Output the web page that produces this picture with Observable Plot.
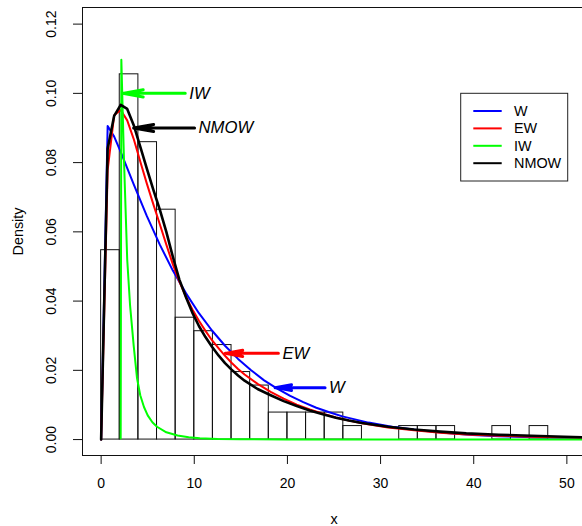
<!DOCTYPE html>
<html>
<head>
<meta charset="utf-8">
<script src="https://cdn.jsdelivr.net/npm/d3@7"></script>
<script src="https://cdn.jsdelivr.net/npm/@observablehq/plot@0.6"></script>
<style>
  html, body { margin: 0; padding: 0; background: #fff; overflow: hidden; }
  #chart { width: 582px; height: 526px; overflow: hidden; position: relative; }
  #chart svg { display: block; max-width: none !important; width: 590px !important; height: 526px !important; }
</style>
</head>
<body>
<div id="chart"></div>
<script>
// ---- Histogram (density scale), bins of width 2 starting at 0 ----
const binLeft  = [0, 2, 4, 6, 8, 10, 12, 14, 16, 18, 20, 22, 24, 26, 28, 30, 32, 34, 36, 38, 40, 42, 44, 46, 48, 50];
const binRight = [2, 4, 6, 8, 10, 12, 14, 16, 18, 20, 22, 24, 26, 28, 30, 32, 34, 36, 38, 40, 42, 44, 46, 48, 50, 52];
const binDensity = [0.0547, 0.1055, 0.0859, 0.0664, 0.0352, 0.0313, 0.0273, 0.0195, 0.0156, 0.0078, 0.0078, 0.0078, 0.0078, 0.0039, 0, 0, 0.0039, 0.0039, 0.0039, 0, 0, 0.0039, 0, 0.0039, 0, 0];

// ---- Fitted density curves ----
const wX = [0, 0.7, 1.4, 2.1, 2.8, 3.5, 4.9, 6.3, 7.7, 9.1, 10.5, 11.9, 13.3, 14.7, 16.1, 17.5, 18.9, 20.3, 21.7, 23.1, 24.5, 25.9, 28.7, 31.5, 34.3, 37.1, 39.9, 42.7, 46.2, 49.7, 53.2];
const wY = [0, 0.0906, 0.0875, 0.0831, 0.0784, 0.0737, 0.0646, 0.0563, 0.0488, 0.0423, 0.0365, 0.0315, 0.0271, 0.0233, 0.0200, 0.0171, 0.0147, 0.0126, 0.0108, 0.0092, 0.0079, 0.0067, 0.0049, 0.0036, 0.0026, 0.0019, 0.00135, 0.00097, 0.00065, 0.00043, 0.00029];

const ewX = [0, 0.7, 1.4, 2.1, 2.8, 3.5, 4.2, 4.9, 5.6, 6.3, 7.0, 7.7, 8.4, 9.1, 9.8, 10.5, 11.2, 11.9, 12.6, 13.3, 14.0, 14.7, 15.4, 16.8, 18.2, 19.6, 21.0, 22.4, 23.8, 25.2, 26.6, 28.0, 30.8, 33.6, 36.4, 39.2, 42.7, 46.2, 49.7, 53.2];
const ewY = [0, 0.0778, 0.0937, 0.0952, 0.0922, 0.0868, 0.0803, 0.0740, 0.0680, 0.0622, 0.0563, 0.0506, 0.0456, 0.0413, 0.0376, 0.0343, 0.0314, 0.0287, 0.0264, 0.0242, 0.0222, 0.0204, 0.0188, 0.0161, 0.0138, 0.0118, 0.0101, 0.0087, 0.0075, 0.0064, 0.0055, 0.0047, 0.0035, 0.0027, 0.0020, 0.0015, 0.0011, 0.0008, 0.0006, 0.00045];

const iwX = [2.1, 2.17, 2.45, 2.8, 3.1, 3.5, 3.85, 4.2, 4.6, 5.0, 5.5, 6.0, 7.0, 8.2, 9.4, 10.6, 12.5, 15, 20, 30, 53];
const iwY = [0.0003, 0.1097, 0.081, 0.052, 0.039, 0.027, 0.0178, 0.0128, 0.0094, 0.0070, 0.0050, 0.0037, 0.0021, 0.0012, 0.0007, 0.0004, 0.0002, 0.0001, 0.00004, 0.00001, 0];

const nmowX = [0, 0.7, 1.4, 2.1, 2.8, 3.5, 4.2, 4.9, 5.6, 6.3, 7.0, 7.7, 8.4, 9.1, 9.8, 10.5, 11.2, 11.9, 12.6, 13.3, 14.0, 14.7, 15.4, 16.8, 18.2, 19.6, 21.0, 22.4, 23.8, 25.2, 26.6, 28.0, 30.8, 33.6, 36.4, 39.2, 42.7, 46.2, 49.7, 53.2];
const nmowY = [0, 0.0840, 0.0935, 0.0967, 0.0955, 0.0908, 0.0846, 0.0783, 0.0722, 0.0664, 0.0600, 0.0528, 0.0462, 0.0412, 0.0366, 0.0328, 0.0296, 0.0268, 0.0243, 0.0221, 0.0202, 0.0185, 0.0170, 0.0146, 0.0128, 0.0111, 0.0097, 0.0084, 0.0073, 0.0063, 0.0055, 0.0048, 0.0037, 0.0029, 0.0023, 0.0018, 0.0014, 0.0011, 0.0008, 0.0006];

// ---- Series names / colours ----
const seriesNames  = ["W", "EW", "IW", "NMOW"];
const seriesColors = ["#0000ff", "#ff0000", "#00ff00", "#000000"];

// ---- Annotation arrows ----
const arrowLabels = ["IW", "NMOW", "EW", "W"];
const arrowFrom   = [9.03, 10.03, 19.03, 24.04];
const arrowTo     = [2.31, 3.49, 13.32, 18.68];
const arrowY      = [0.100, 0.090, 0.0249, 0.0150];
const arrowColors = ["#00ff00", "#000000", "#ff0000", "#0000ff"];

// ---- Axis ticks ----
const xTicks = [0, 10, 20, 30, 40, 50];
const yTicks = [0, 0.02, 0.04, 0.06, 0.08, 0.10, 0.12];

// ---- Build tables ----
const hist = binLeft.map((l, i) => ({x1: l, x2: binRight[i], y: binDensity[i]}));
const toPts = (xs, ys) => xs.map((x, i) => ({x, y: ys[i]}));
const curves = [toPts(wX, wY), toPts(ewX, ewY), toPts(iwX, iwY), toPts(nmowX, nmowY)];
const curveWidths = [2, 2, 2, 2.6];
const arrows = arrowLabels.map((label, i) => ({label, from: arrowFrom[i], to: arrowTo[i], y: arrowY[i], color: arrowColors[i]}));

const FONT = "'Liberation Sans', Arial, Helvetica, sans-serif";
const xDomain = [-2, 52];
const yDomain = [-0.0046, 0.1248];

const marks = [
  Plot.rectY(hist, {x1: "x1", x2: "x2", y: "y", fill: "none", stroke: "#111", strokeWidth: 1}),
  ...curves.map((pts, i) => Plot.line(pts, {x: "x", y: "y", stroke: seriesColors[i], strokeWidth: curveWidths[i], clip: true})),
  ...arrows.map(a => Plot.arrow([a], {x1: "from", x2: "to", y1: "y", y2: "y", stroke: a.color, strokeWidth: 3, headAngle: 20, headLength: 11})),
  Plot.text(arrows, {x: "from", y: "y", text: "label", dx: 4, textAnchor: "start", lineAnchor: "middle", fontStyle: "italic", fontSize: 16.7, fill: "#000"}),
  Plot.frame({stroke: "#111", strokeWidth: 1}),
  Plot.axisX({ticks: xTicks, tickFormat: d => String(d), tickSize: 9, tickPadding: 14, fontSize: 14, label: null, stroke: "#111"}),
  Plot.axisY({ticks: yTicks, tickFormat: d3.format(".2f"), tickSize: 9, tickPadding: 22, tickRotate: -90, textAnchor: "middle", lineAnchor: "middle", fontSize: 14, label: null, stroke: "#111"}),
  Plot.text(["Density"], {frameAnchor: "left", dx: -64, rotate: -90, textAnchor: "middle", lineAnchor: "middle", fontSize: 14.4}),
  Plot.text(["x"], {frameAnchor: "bottom", dy: 64, textAnchor: "middle", lineAnchor: "middle", fontSize: 14.4})
];

// The R plot box ends at x≈585, just past the right edge of the 582px picture:
// the SVG is 590 wide (not scaled down) and the wrapper crops it to 582.
const chart = Plot.plot({
  width: 590,
  height: 526,
  marginLeft: 82,
  marginRight: 5,
  marginTop: 7,
  marginBottom: 71,
  x: {domain: xDomain},
  y: {domain: yDomain},
  style: {fontFamily: FONT, background: "#fff", color: "#000", maxWidth: "none"},
  marks
});

// ---- Legend (drawn inside the plot area, top-right) ----
const svg = d3.select(chart);
const lg = svg.append("g").attr("font-family", FONT).attr("font-size", 14.4).attr("text-anchor", "start");
lg.append("rect").attr("x", 460.7).attr("y", 93.3).attr("width", 107).attr("height", 87.7)
  .attr("fill", "#fff").attr("stroke", "#222").attr("stroke-width", 1);
seriesNames.forEach((name, i) => {
  const yy = 111 + i * 17.4;
  lg.append("line").attr("x1", 473.3).attr("x2", 501.7).attr("y1", yy).attr("y2", yy)
    .attr("stroke", seriesColors[i]).attr("stroke-width", 2);
  lg.append("text").attr("x", 514).attr("y", yy).attr("dy", "0.35em").attr("fill", "#000")
    .attr("text-anchor", "start").text(name);
});

document.getElementById("chart").appendChild(chart);
</script>
</body>
</html>
